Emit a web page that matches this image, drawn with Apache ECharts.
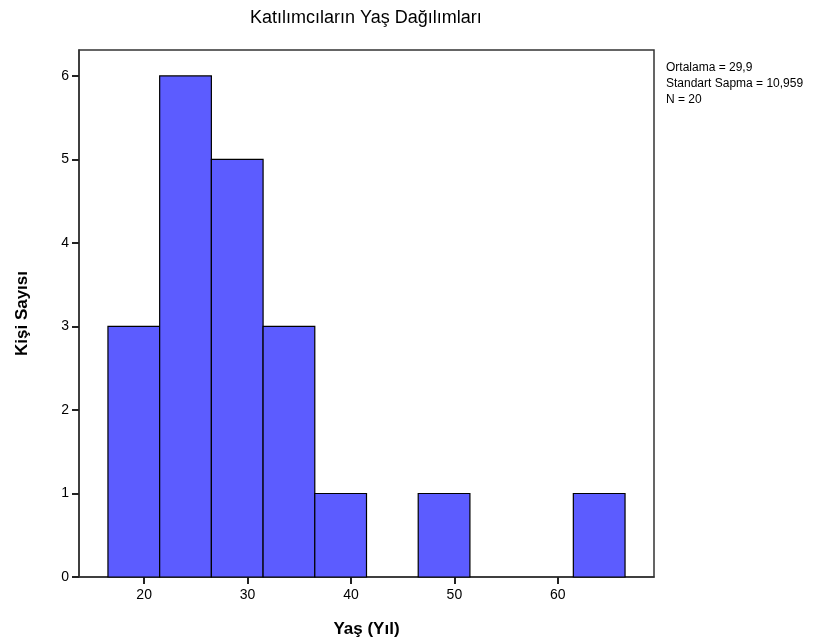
<!DOCTYPE html>
<html><head><meta charset="utf-8">
<script src="https://cdn.jsdelivr.net/npm/echarts@6/dist/echarts.min.js"></script>
<style>html,body{margin:0;padding:0;background:#fff}#c{width:829px;height:641px}</style>
</head><body><div id="c"></div>
<script>
const binStarts = [16.5, 21.5, 26.5, 31.5, 36.5, 41.5, 46.5, 51.5, 56.5, 61.5];
const binWidth = 5;
const counts = [3, 6, 5, 3, 1, 0, 1, 0, 0, 1];
const xTicks = [20, 30, 40, 50, 60];
const yTicks = [0, 1, 2, 3, 4, 5, 6];
const statsLines = ['Ortalama = 29,9', 'Standart Sapma = 10,959', 'N = 20'];
const titleText = 'Katılımcıların Yaş Dağılımları';
const xName = 'Yaş (Yıl)';
const yName = 'Kişi Sayısı';

const data = binStarts.map((s, i) => [s, s + binWidth, counts[i]]);
const font = '"Liberation Sans", Arial, sans-serif';
const chart = echarts.init(document.getElementById('c'), null, {renderer: 'canvas'});
chart.setOption({
  backgroundColor: '#fff',
  animation: false,
  title: {
    text: titleText, left: 245, top: 4,
    textStyle: {fontFamily: font, fontSize: 18, fontWeight: 'normal', color: '#000'}
  },
  graphic: [{
    type: 'text', left: 666, top: 60,
    style: {text: statsLines.join('\n'), font: '12px "Liberation Sans", Arial, sans-serif', lineHeight: 16, fill: '#000'}
  }],
  grid: {left: 79, right: 175, top: 50, bottom: 64, show: true, borderColor: '#333', borderWidth: 1.5,
    containLabel: false, outerBoundsMode: 'none'},
  xAxis: {
    type: 'value', min: 13.7, max: 69.3,
    name: xName, nameLocation: 'middle', nameGap: 44,
    nameTextStyle: {fontFamily: font, fontSize: 17, fontWeight: 'bold', color: '#000'},
    axisLine: {show: true, lineStyle: {color: '#333', width: 1.5}},
    axisTick: {show: true, length: 7, lineStyle: {color: '#222', width: 2}, customValues: xTicks},
    axisLabel: {fontFamily: font, fontSize: 14, color: '#000', margin: 11, customValues: xTicks},
    splitLine: {show: false}
  },
  yAxis: {
    type: 'value', min: 0, max: 6.31,
    name: yName, nameLocation: 'middle', nameGap: 48,
    nameTextStyle: {fontFamily: font, fontSize: 17, fontWeight: 'bold', color: '#000'},
    axisLine: {show: true, lineStyle: {color: '#333', width: 1.5}},
    axisTick: {show: true, length: 7, lineStyle: {color: '#222', width: 2}, customValues: yTicks},
    axisLabel: {fontFamily: font, fontSize: 14, color: '#000', margin: 10, customValues: yTicks},
    splitLine: {show: false}
  },
  series: [{
    type: 'custom',
    data: data,
    encode: {x: [0, 1], y: 2},
    renderItem: function (params, api) {
      const v = api.value(2);
      if (!v) return null;
      const p0 = api.coord([api.value(0), 0]);
      const p1 = api.coord([api.value(1), v]);
      return {
        type: 'rect',
        shape: {x: p0[0], y: p1[1], width: p1[0] - p0[0], height: p0[1] - p1[1]},
        style: {fill: '#5c5cff', stroke: '#000', lineWidth: 1.2}
      };
    }
  }]
});
</script></body></html>
